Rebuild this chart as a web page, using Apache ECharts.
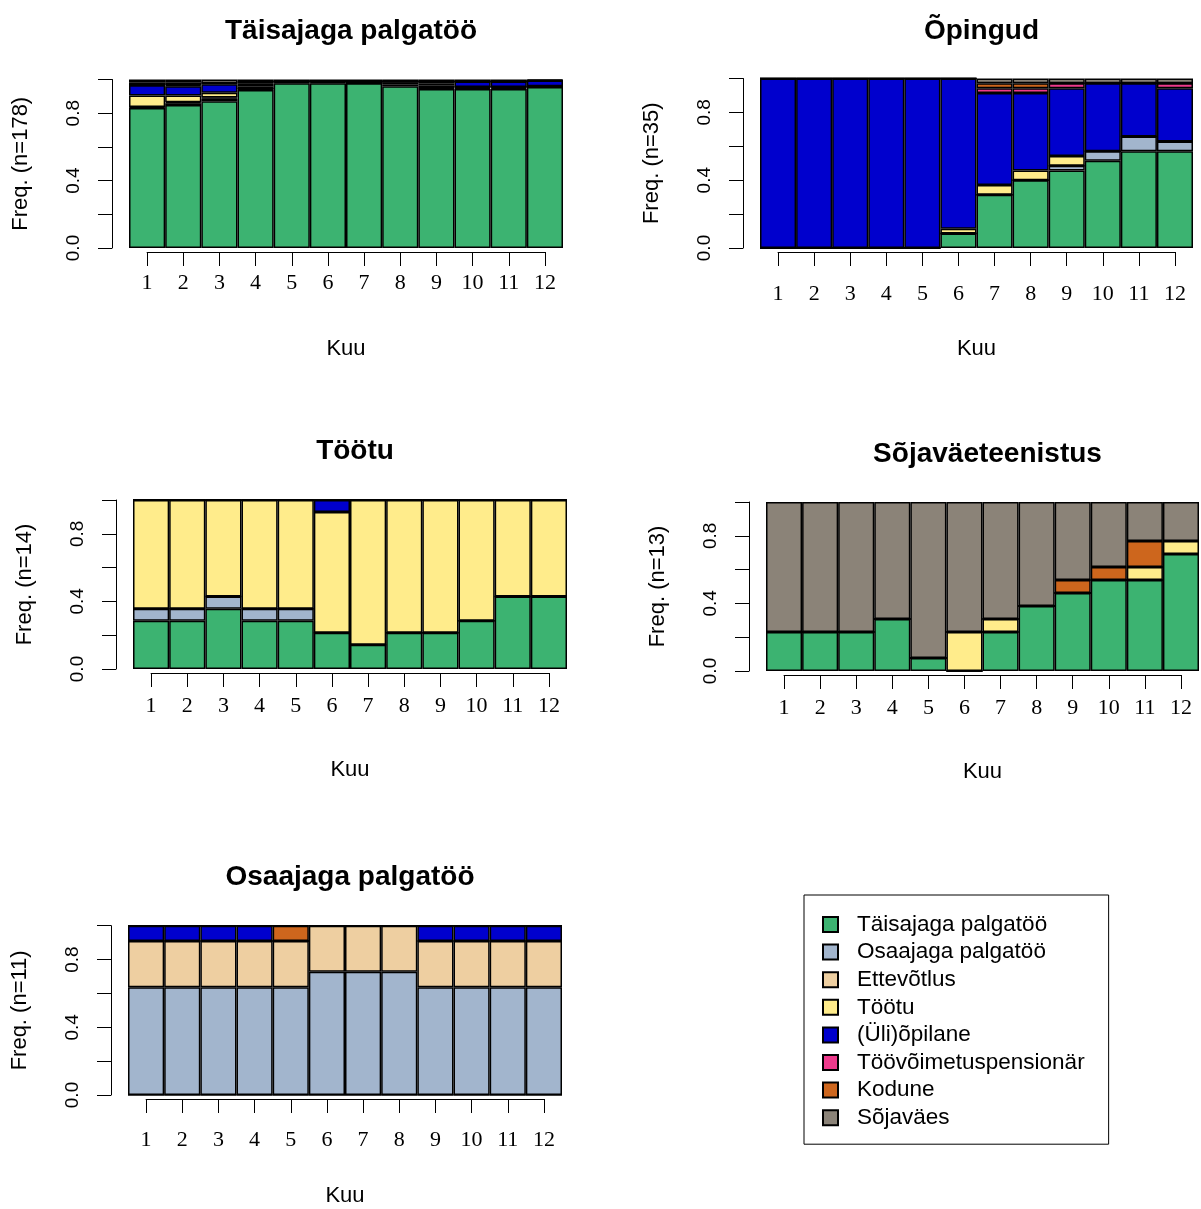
<!DOCTYPE html>
<html><head><meta charset="utf-8">
<script src="https://cdn.jsdelivr.net/npm/echarts@6/dist/echarts.min.js"></script>
<style>html,body{margin:0;padding:0;background:#fff}#c{width:1201px;height:1209px}</style>
</head><body><div id="c"></div>
<script>
// ---- categories / labels ----
const months = ['1','2','3','4','5','6','7','8','9','10','11','12'];
const statuses = ['Täisajaga palgatöö','Osaajaga palgatöö','Ettevõtlus','Töötu','(Üli)õpilane','Töövõimetuspensionär','Kodune','Sõjaväes'];
const statusColors = ['#3CB371','#A2B5CD','#EECFA1','#FFEC8B','#0000CD','#EE3A8C','#CD661D','#8B8378'];
const yTickLabels = ['0.0','0.4','0.8'];
const zero12 = [0,0,0,0,0,0,0,0,0,0,0,0];

// ---- Panel 1: Täisajaga palgatöö (n=178), counts per month ----
const p1N = 178;
const p1Full  = [148,151,155,167,174,174,174,171,168,168,168,170];
const p1Part  = [1,2,3,1,1,1,0,2,2,1,1,0];
const p1Ent   = [0,1,1,0,1,1,2,2,2,1,1,1];
const p1Unemp = [12,7,5,3,0,0,0,1,2,0,0,0];
const p1Stud  = [11,10,9,3,0,0,0,0,2,6,6,6];
const p1Pens  = [0,1,1,1,0,0,0,0,0,0,0,0];
const p1Home  = [3,3,0,0,0,0,0,0,0,0,0,0];
const p1Army  = [3,3,4,3,2,2,2,2,2,2,2,1];

// ---- Panel 2: Õpingud (n=35) ----
const p2N = 35;
const p2Full  = [0,0,0,0,0,3,11,14,16,18,20,20];
const p2Part  = [0,0,0,0,0,0,0,0,1,2,3,2];
const p2Unemp = [0,0,0,0,0,1,2,2,2,0,0,0];
const p2Stud  = [35,35,35,35,35,31,19,16,14,14,11,11];
const p2Pens  = [0,0,0,0,0,0,1,1,1,0,0,1];
const p2Home  = [0,0,0,0,0,0,1,1,0,0,0,0];
const p2Army  = [0,0,0,0,0,0,1,1,1,1,1,1];

// ---- Panel 3: Töötu (n=14) ----
const p3N = 14;
const p3Full  = [4,4,5,4,4,3,2,3,3,4,6,6];
const p3Part  = [1,1,1,1,1,0,0,0,0,0,0,0];
const p3Unemp = [9,9,8,9,9,10,12,11,11,10,8,8];
const p3Stud  = [0,0,0,0,0,1,0,0,0,0,0,0];

// ---- Panel 4: Sõjaväeteenistus (n=13) ----
const p4N = 13;
const p4Full  = [3,3,3,4,1,0,3,5,6,7,7,9];
const p4Unemp = [0,0,0,0,0,3,1,0,0,0,1,1];
const p4Home  = [0,0,0,0,0,0,0,0,1,1,2,0];
const p4Army  = [10,10,10,9,12,10,9,8,6,5,3,3];

// ---- Panel 5: Osaajaga palgatöö (n=11) ----
const p5N = 11;
const p5Part  = [7,7,7,7,7,8,8,8,7,7,7,7];
const p5Ent   = [3,3,3,3,3,3,3,3,3,3,3,3];
const p5Stud  = [1,1,1,1,0,0,0,0,1,1,1,1];
const p5Home  = [0,0,0,0,1,0,0,0,0,0,0,0];

// ---- panel definitions (layout) ----
const panels = [
  {title:'Täisajaga palgatöö', n:p1N, data:[p1Full,p1Part,p1Ent,p1Unemp,p1Stud,p1Pens,p1Home,p1Army],
   left:129, top:79.5, width:434, height:168.5, axisGap:4, labMargin:20, titleTop:12},
  {title:'Õpingud', n:p2N, data:[p2Full,p2Part,zero12,p2Unemp,p2Stud,p2Pens,p2Home,p2Army],
   left:760, top:78.5, width:433, height:169.5, axisGap:4, labMargin:31, titleTop:12},
  {title:'Töötu', n:p3N, data:[p3Full,p3Part,zero12,p3Unemp,p3Stud,zero12,zero12,zero12],
   left:133, top:500, width:434, height:169, axisGap:4, labMargin:22, titleTop:432},
  {title:'Sõjaväeteenistus', n:p4N, data:[p4Full,zero12,zero12,p4Unemp,zero12,zero12,p4Home,p4Army],
   left:766, top:502, width:433, height:169, axisGap:4, labMargin:22, titleTop:435},
  {title:'Osaajaga palgatöö', n:p5N, data:[zero12,p5Part,p5Ent,zero12,p5Stud,zero12,p5Home,zero12],
   left:128, top:925.7, width:434, height:169.3, axisGap:4, labMargin:30, titleTop:858}
];

const SANS = 'Liberation Sans, Arial, sans-serif';
const SERIF = 'Liberation Serif, Times New Roman, serif';

const grid = [], xAxis = [], yAxis = [], series = [], title = [];
panels.forEach((p, i) => {
  const bw = p.width / months.length;
  const gMain = grid.length;
  grid.push({left:p.left, top:p.top, width:p.width, height:p.height, containLabel:false});
  const gAx = grid.length;
  grid.push({left:p.left + bw/2, top:p.top + p.height + p.axisGap - 1, width:p.width - bw, height:1, containLabel:false});

  title.push({text:p.title, left:p.left + p.width/2, top:p.titleTop, textAlign:'center',
    textStyle:{fontFamily:SANS, fontWeight:'bold', fontSize:28, color:'#000'}});

  const xMain = xAxis.length;
  xAxis.push({type:'category', gridIndex:gMain, data:months, show:false, boundaryGap:true});
  xAxis.push({type:'category', gridIndex:gAx, data:months, boundaryGap:false, position:'bottom',
    axisLine:{show:true, lineStyle:{color:'#000', width:1}},
    axisTick:{show:true, length:14, inside:false, alignWithLabel:true, lineStyle:{color:'#000'}},
    axisLabel:{show:true, interval:0, margin:p.labMargin, fontFamily:SERIF, fontSize:22, color:'#000'},
    splitLine:{show:false},
    name:'Kuu', nameLocation:'middle', nameGap:86,
    nameTextStyle:{fontFamily:SANS, fontSize:22, color:'#000'}});

  const yMain = yAxis.length;
  yAxis.push({type:'value', gridIndex:gMain, min:0, max:1, interval:0.2, offset:17,
    axisLine:{show:true, lineStyle:{color:'#000', width:1}},
    axisTick:{show:true, length:14, lineStyle:{color:'#000'}},
    axisLabel:{show:true, rotate:90, margin:29, fontFamily:SANS, fontSize:19, color:'#000',
      showMinLabel:true, showMaxLabel:true,
      formatter: v => { const k = Math.round(v*5); return (k % 2 === 0) ? yTickLabels[k/2] || '' : ''; }},
    splitLine:{show:false},
    name:'Freq. (n=' + p.n + ')', nameLocation:'middle', nameRotate:90, nameGap:80,
    nameTextStyle:{fontFamily:SANS, fontSize:22, color:'#000'}});
  yAxis.push({type:'value', gridIndex:gAx, show:false});

  statuses.forEach((s, k) => {
    series.push({type:'bar', name:s, xAxisIndex:xMain, yAxisIndex:yMain, stack:'panel'+i,
      barCategoryGap:'0%', barGap:'0%',
      data:p.data[k].map(c => c / p.n),
      itemStyle:{color:statusColors[k], borderColor:'#000', borderWidth:1.5},
      emphasis:{disabled:true}});
  });
});

const chart = echarts.init(document.getElementById('c'), null, {renderer:'canvas'});
chart.setOption({
  animation:false,
  backgroundColor:'#fff',
  title, grid, xAxis, yAxis, series,
  legend:{orient:'vertical', left:804, top:895, data:statuses, icon:'rect',
    itemWidth:15, itemHeight:15, itemGap:4.6, selectedMode:false,
    borderColor:'#000', borderWidth:1, padding:[18,24,15,18],
    textStyle:{fontFamily:SANS, fontSize:22.5, lineHeight:22, color:'#000', padding:[0,0,0,14]}}
});
</script></body></html>
